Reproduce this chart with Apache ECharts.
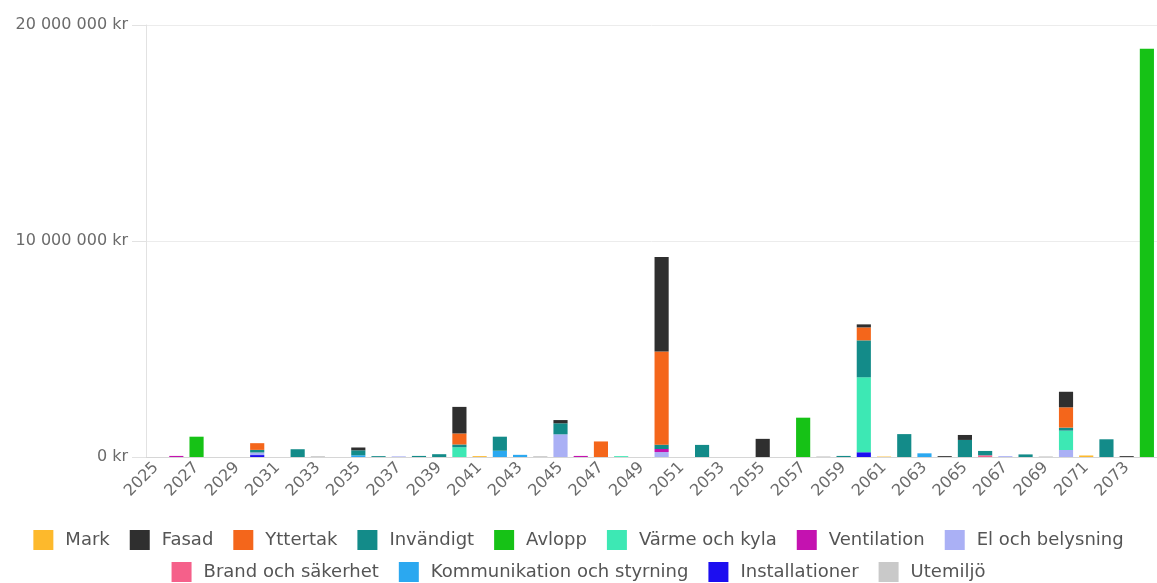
<!DOCTYPE html>
<html>
<head>
<meta charset="utf-8">
<script src="https://cdn.jsdelivr.net/npm/echarts@6/dist/echarts.min.js"></script>
<style>
  html, body { margin: 0; padding: 0; background: #ffffff; overflow: hidden; }
  #chart { width: 1157px; height: 583px; }
</style>
</head>
<body>
<div id="chart"></div>
<script>
// Planned maintenance cost per year, stacked by building part
const years = [
  '2025','2026','2027','2028','2029','2030','2031','2032','2033','2034',
  '2035','2036','2037','2038','2039','2040','2041','2042','2043','2044',
  '2045','2046','2047','2048','2049','2050','2051','2052','2053','2054',
  '2055','2056','2057','2058','2059','2060','2061','2062','2063','2064',
  '2065','2066','2067','2068','2069','2070','2071','2072','2073','2074'
];

const mark = [
  0,0,0,0,0,0,0,0,0,0,
  0,0,0,0,0,0,40000,0,0,0,
  0,0,0,0,0,0,0,0,0,0,
  0,0,0,0,0,0,20000,0,0,0,
  0,0,0,0,0,0,70000,0,0,0
];
const fasad = [
  0,0,0,0,0,0,0,0,0,0,
  130000,0,0,0,0,1230000,0,0,0,0,
  150000,0,0,0,0,4370000,0,0,0,0,
  840000,0,0,0,0,140000,0,0,0,40000,
  230000,0,0,0,0,720000,0,0,40000,0
];
const yttertak = [
  0,0,0,0,0,310000,0,0,0,0,
  0,0,0,0,0,510000,0,0,0,0,
  0,0,720000,0,0,4320000,0,0,0,0,
  0,0,0,0,0,600000,0,0,0,0,
  0,0,0,0,0,940000,0,0,0,0
];
const invandigt = [
  0,0,0,0,0,120000,0,360000,0,0,
  230000,40000,0,50000,130000,130000,0,650000,0,0,
  510000,0,0,0,0,200000,0,560000,0,0,
  0,0,0,0,50000,1710000,0,1060000,0,0,
  790000,200000,0,120000,0,140000,0,820000,0,0
];
const avlopp = [
  0,0,940000,0,0,0,0,0,0,0,
  0,0,0,0,0,0,0,0,0,0,
  0,0,0,0,0,0,0,0,0,0,
  0,0,1820000,0,0,0,0,0,0,0,
  0,0,0,0,0,0,0,0,0,18900000
];
const varme = [
  0,0,0,0,0,0,0,0,0,0,
  0,0,0,0,0,450000,0,0,0,0,
  0,0,0,40000,0,0,0,0,0,0,
  0,0,0,0,0,3470000,0,0,0,0,
  0,0,0,0,0,895000,0,0,0,0
];
const ventilation = [
  0,50000,0,0,0,0,0,0,0,0,
  0,0,0,0,0,0,0,0,0,0,
  0,50000,0,0,0,140000,0,0,0,0,
  0,0,0,0,0,0,0,0,0,0,
  0,0,0,0,0,0,0,0,0,0
];
const elBelysning = [
  0,0,0,0,0,120000,0,0,0,0,
  0,0,30000,0,0,0,0,0,0,0,
  1050000,0,0,0,0,230000,0,0,0,0,
  0,0,0,0,0,0,0,0,0,0,
  0,0,40000,0,0,325000,0,0,0,0
];
const brand = [
  0,0,0,0,0,0,0,0,0,0,
  0,0,0,0,0,0,0,0,0,0,
  0,0,0,0,0,0,0,0,0,0,
  0,0,0,0,0,0,0,0,0,0,
  0,80000,0,0,0,0,0,0,0,0
];
const kommunikation = [
  0,0,0,0,0,0,0,0,0,0,
  80000,0,0,0,0,0,0,290000,100000,0,
  0,0,0,0,0,0,0,0,0,0,
  0,0,0,0,0,0,0,0,170000,0,
  0,0,0,0,0,0,0,0,0,0
];
const installationer = [
  0,0,0,0,0,90000,0,0,0,0,
  0,0,0,0,0,0,0,0,0,0,
  0,0,0,0,0,0,0,0,0,0,
  0,0,0,0,0,220000,0,0,0,0,
  0,0,0,0,0,0,0,0,0,0
];
const utemiljo = [
  0,0,0,0,0,0,0,0,40000,0,
  0,0,0,0,0,0,0,0,0,40000,
  0,0,0,0,0,0,0,0,0,0,
  0,0,0,30000,0,0,0,0,0,0,
  0,0,0,0,30000,0,0,0,0,0
];

// Legend order; stacking runs the other way (Utemiljö at the bottom)
const parts = [
  { name: 'Mark', color: '#fdb92c', data: mark },
  { name: 'Fasad', color: '#2f2f2f', data: fasad },
  { name: 'Yttertak', color: '#f4661b', data: yttertak },
  { name: 'Invändigt', color: '#138b89', data: invandigt },
  { name: 'Avlopp', color: '#16c216', data: avlopp },
  { name: 'Värme och kyla', color: '#3de8b4', data: varme },
  { name: 'Ventilation', color: '#c412b0', data: ventilation },
  { name: 'El och belysning', color: '#aab0f5', data: elBelysning },
  { name: 'Brand och säkerhet', color: '#f5608a', data: brand },
  { name: 'Kommunikation och styrning', color: '#2ba8f0', data: kommunikation },
  { name: 'Installationer', color: '#1c0ef0', data: installationer },
  { name: 'Utemiljö', color: '#c9c9c9', data: utemiljo }
];

const FONT = '"DejaVu Sans", sans-serif';

function kr(v) {
  return String(v).replace(/\B(?=(\d{3})+(?!\d))/g, ' ') + ' kr';
}

const legendBase = {
  left: 'center',
  itemWidth: 20,
  itemHeight: 20,
  itemGap: 20,
  icon: 'rect',
  selectedMode: false,
  textStyle: { color: '#555', fontSize: 18, fontFamily: FONT, padding: [0, 0, 0, 7] }
};

const chart = echarts.init(document.getElementById('chart'), null, { renderer: 'canvas' });
chart.setOption({
  animation: false,
  color: parts.map(p => p.color),
  grid: { left: 146, right: -8, top: 25, bottom: 126, containLabel: false },
  legend: [
    Object.assign({}, legendBase, { top: 525, data: parts.slice(0, 8).map(p => p.name) }),
    Object.assign({}, legendBase, { top: 557, data: parts.slice(8).map(p => p.name) })
  ],
  xAxis: {
    type: 'category',
    data: years,
    axisLine: { lineStyle: { color: '#d6d6d6' } },
    axisTick: { show: false },
    axisLabel: {
      interval: 1,
      rotate: 45,
      margin: 8,
      color: '#6b6b6b',
      fontSize: 16,
      fontFamily: FONT
    }
  },
  yAxis: {
    type: 'value',
    min: 0,
    max: 20000000,
    interval: 10000000,
    axisLine: { show: true, lineStyle: { color: '#e2e2e2' } },
    axisTick: { show: true, length: 14, lineStyle: { color: '#e2e2e2' } },
    splitLine: { lineStyle: { color: '#ececec' } },
    axisLabel: {
      color: '#6b6b6b',
      fontSize: 16,
      fontFamily: FONT,
      margin: 18,
      formatter: kr
    }
  },
  series: parts.slice().reverse().map(p => ({
    name: p.name,
    type: 'bar',
    stack: 'total',
    barWidth: '70%',
    itemStyle: { color: p.color },
    data: p.data
  }))
});
</script>
</body>
</html>
